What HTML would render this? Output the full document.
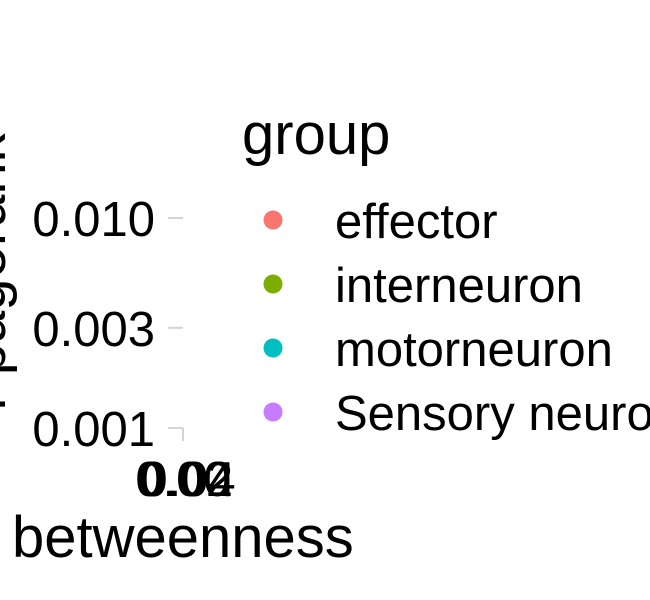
<!DOCTYPE html>
<html><head><meta charset="utf-8"><style>
html,body{margin:0;padding:0;background:#fff;}
svg{display:block;font-family:"Liberation Sans",Arial,sans-serif;}
</style></head><body>
<svg id="chart" width="650" height="600" viewBox="0 0 650 600">
<text x="5" y="272" font-size="58" text-anchor="middle" transform="rotate(-90 5 272)">r pagerank</text>
<text x="12" y="557" font-size="58">betweenness</text>
<g id="yaxis"></g>
<g id="xaxis"></g>
<g id="points"></g>
<g id="legend">
<text x="242" y="154" font-size="58">group</text>
</g>
</svg>
<script>
const yTickLabels = ["0.010", "0.003", "0.001"];
const yTickValues = [0.010, 0.003, 0.001];
const xTickLabels = ["0.00", "0.02", "0.04"];
const xTickValues = [0.00, 0.02, 0.04];
const groups = ["effector", "interneuron", "motorneuron", "Sensory neuron"];
const groupColors = ["#F8766D", "#7CAE00", "#00BFC4", "#C77CFF"];
const pointX = [];
const pointY = [];
const pointGroup = [];

const NS = "http://www.w3.org/2000/svg";
function mk(tag, attrs, parent) {
  const e = document.createElementNS(NS, tag);
  for (const k in attrs) e.setAttribute(k, attrs[k]);
  parent.appendChild(e);
  return e;
}
const yMinL = Math.log10(0.001), yMaxL = Math.log10(0.010);
function yScale(v) { return 428 + (Math.log10(v) - yMinL) / (yMaxL - yMinL) * (218 - 428); }
function xScale(v) { return 183 + (v - 0) / 0.04 * 40; }

const yaxis = document.getElementById("yaxis");
yTickValues.forEach((v, i) => {
  const y = yScale(v);
  const t = mk("line", {x1: 168, x2: 183, y1: y, y2: y, stroke: "#d4d4d4", "stroke-width": 2}, yaxis);
  
  
  const l = mk("text", {x: 155, y: y + 18, "font-size": 49, "text-anchor": "end"}, yaxis);
  l.textContent = yTickLabels[i];
  
  
});
const xaxis = document.getElementById("xaxis");
xTickValues.forEach((v, i) => {
  const x = 183 + i * 2.5;
  const t = mk("line", {x1: 183, x2: 183, y1: 428, y2: 441, stroke: "#d4d4d4", "stroke-width": 2}, xaxis);
  
  
  const l = mk("text", {x: x, y: 496, "font-size": 49, "text-anchor": "middle"}, xaxis);
  l.textContent = xTickLabels[i];
  
  
});
const pts = document.getElementById("points");
pointX.forEach((v, i) => {
  const c = mk("circle", {cx: xScale(v), cy: yScale(pointY[i]), r: 4, fill: groupColors[groups.indexOf(pointGroup[i])]}, pts);
  
  
});
const legend = document.getElementById("legend");
groups.forEach((g, i) => {
  const y = 220 + i * 64;
  const c = mk("circle", {cx: 273, cy: y, r: 9.5, fill: groupColors[i]}, legend);
  
  
  const t = mk("text", {x: 335, y: y + 18, "font-size": 49}, legend);
  t.textContent = g;
  
  
});
</script>
</body></html>
